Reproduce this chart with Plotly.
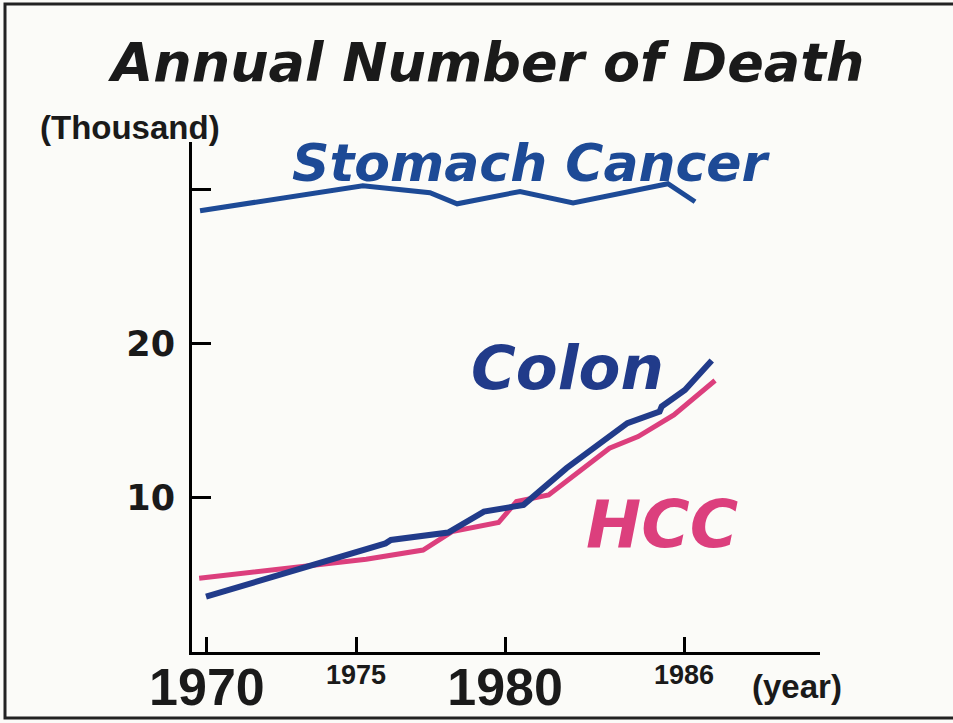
import plotly.graph_objects as go

# ---- data (thousand deaths per year) ----
stomach_years = [1969.77, 1975.23, 1977.48, 1978.39, 1980.50, 1982.28, 1985.46, 1986.37]
stomach_vals = [28.64, 30.26, 29.81, 29.09, 29.89, 29.14, 30.39, 29.22]

colon_years = [1969.97, 1975.99, 1976.17, 1978.09, 1979.29, 1980.62, 1982.06, 1984.10, 1985.18, 1985.25, 1986.03, 1986.93]
colon_vals = [3.59, 7.05, 7.27, 7.75, 9.11, 9.55, 11.93, 14.85, 15.60, 15.93, 17.01, 18.92]

hcc_years = [1969.74, 1975.34, 1977.25, 1978.22, 1979.78, 1980.38, 1981.46, 1983.50, 1984.46, 1985.66, 1987.04]
hcc_vals = [4.79, 6.02, 6.62, 7.81, 8.40, 9.76, 10.19, 13.23, 13.98, 15.39, 17.62]

big_year_ticks = [1970, 1980]
big_year_labels = ["1970", "1980"]
small_year_ticks = [1975, 1986]
small_year_labels = ["1975", "1986"]
y_ticks = [10, 20, 30]
y_labels = ["10", "20", ""]

STOMACH = "#1d4a96"
COLON = "#213b8a"
HCC = "#dc3f7d"
HEAVY = "DejaVu Sans, Liberation Sans, Arial, sans-serif"
BOLD = "Liberation Sans, Arial, sans-serif"

fig = go.Figure()
fig.add_trace(go.Scatter(x=stomach_years, y=stomach_vals, mode="lines",
                         line=dict(color=STOMACH, width=5), name="Stomach Cancer"))
fig.add_trace(go.Scatter(x=hcc_years, y=hcc_vals, mode="lines",
                         line=dict(color=HCC, width=5), name="HCC"))
fig.add_trace(go.Scatter(x=colon_years, y=colon_vals, mode="lines",
                         line=dict(color=COLON, width=6), name="Colon"))

fig.update_layout(
    width=953, height=723,
    margin=dict(l=192, r=133, t=142, b=71),
    paper_bgcolor="#fbfbf8", plot_bgcolor="#fbfbf8",
    showlegend=False,
    title=dict(text="Annual Number of Death", x=488 / 953, xref="container",
               y=1 - 62 / 723, yref="container", xanchor="center", yanchor="middle",
               font=dict(family=HEAVY, size=54, color="#1a1a1a", weight="bold", style="italic")),
    xaxis=dict(range=[1969.5, 1990.56], showgrid=False, zeroline=False, automargin=False,
               showline=True, linecolor="black", linewidth=3,
               ticks="inside", ticklen=15, tickwidth=3, tickcolor="black",
               tickvals=big_year_ticks + small_year_ticks,
               ticktext=big_year_labels + ["", ""],
               tickfont=dict(family=BOLD, size=52, color="#1a1a1a", weight="bold"),
               ticklabelstandoff=-12),
    yaxis=dict(range=[0, 33.1], showgrid=False, zeroline=False, automargin=False,
               showline=True, linecolor="black", linewidth=3,
               ticks="inside", ticklen=19, tickwidth=3, tickcolor="black",
               tickvals=y_ticks, ticktext=y_labels,
               tickfont=dict(family=HEAVY, size=35, color="#1a1a1a", weight="bold"),
               ticklabelstandoff=7),
)

annos = [
    dict(text="Stomach Cancer", x=1980.87, y=31.75, xref="x", yref="y",
         font=dict(family=HEAVY, size=52, color=STOMACH, weight="bold", style="italic")),
    dict(text="Colon", x=1982.08, y=18.44, xref="x", yref="y",
         font=dict(family=HEAVY, size=61, color=COLON, weight="bold", style="italic")),
    dict(text="HCC", x=1985.27, y=8.25, xref="x", yref="y",
         font=dict(family=HEAVY, size=66, color=HCC, weight="bold", style="italic")),
    dict(text="(Thousand)", x=-0.0987, y=1.0275, xref="paper", yref="paper",
         font=dict(family=BOLD, size=33, color="#1a1a1a", weight="bold")),
    dict(text="(year)", x=0.963, y=-0.0667, xref="paper", yref="paper",
         font=dict(family=BOLD, size=33, color="#1a1a1a", weight="bold")),
]
for yr, lab in zip(small_year_ticks, small_year_labels):
    annos.append(dict(text=lab, x=yr, y=(652 - 675) / 510, xref="x", yref="paper",
                      font=dict(family=BOLD, size=27, color="#1a1a1a", weight="bold")))
for a in annos:
    fig.add_annotation(showarrow=False, xanchor="center", yanchor="middle", **a)

# slide frame
fig.add_shape(type="rect", xref="paper", yref="paper",
              x0=(5 - 192) / 628, x1=(980 - 192) / 628,
              y0=(652 - 718) / 510, y1=(652 - 4) / 510,
              line=dict(color="#222222", width=3), layer="below")

fig.write_html("out.html", config={"displayModeBar": False},
               post_script="document.body.style.margin='0';")
